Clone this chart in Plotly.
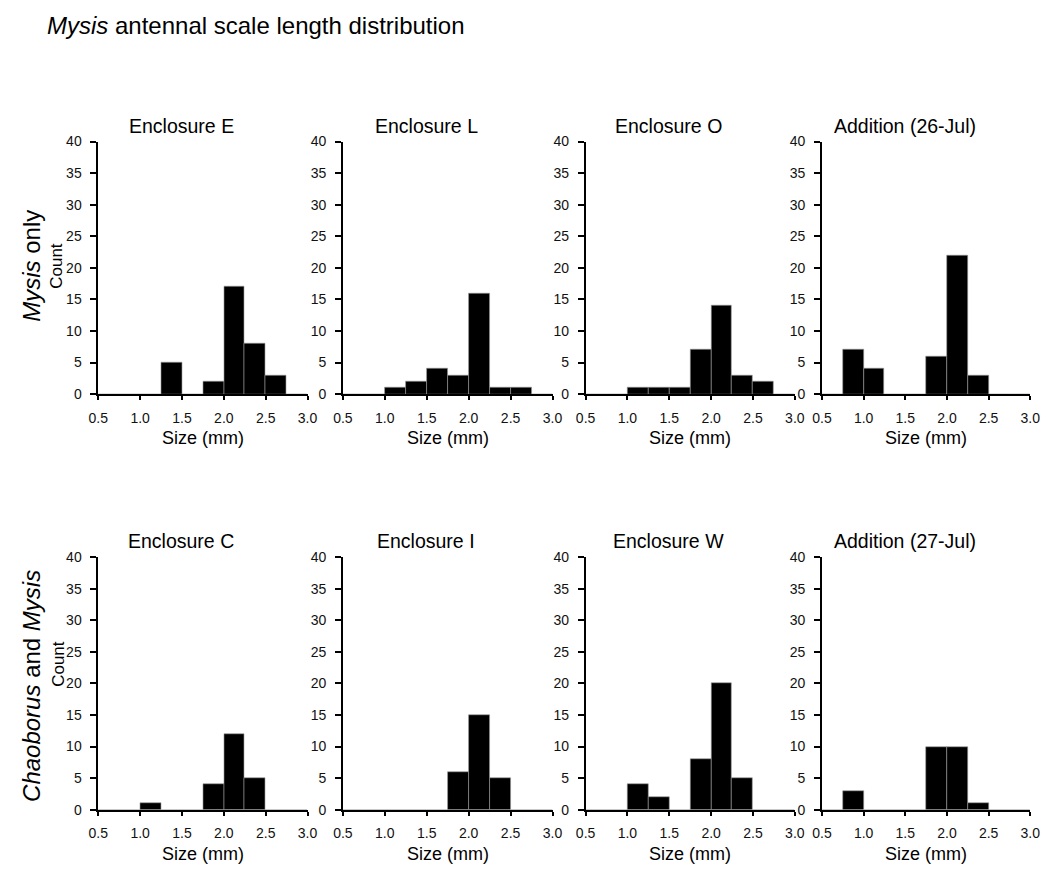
import plotly.graph_objects as go

# Bin edges (mm) and counts per bin
bin_edges = [0.5, 0.75, 1.0, 1.25, 1.5, 1.75, 2.0, 2.25, 2.5, 2.75, 3.0]

enclosure_E = [0, 0, 0, 5, 0, 2, 17, 8, 3, 0]
enclosure_L = [0, 0, 1, 2, 4, 3, 16, 1, 1, 0]
enclosure_O = [0, 0, 1, 1, 1, 7, 14, 3, 2, 0]
addition_26jul = [0, 7, 4, 0, 0, 6, 22, 3, 0, 0]
enclosure_C = [0, 0, 1, 0, 0, 4, 12, 5, 0, 0]
enclosure_I = [0, 0, 0, 0, 0, 6, 15, 5, 0, 0]
enclosure_W = [0, 0, 4, 2, 0, 8, 20, 5, 0, 0]
addition_27jul = [0, 3, 0, 0, 0, 10, 10, 1, 0, 0]

panel_titles = ["Enclosure E", "Enclosure L", "Enclosure O", "Addition (26-Jul)",
                "Enclosure C", "Enclosure I", "Enclosure W", "Addition (27-Jul)"]
panel_counts = [enclosure_E, enclosure_L, enclosure_O, addition_26jul,
                enclosure_C, enclosure_I, enclosure_W, addition_27jul]

x_ticks = [0.5, 1.0, 1.5, 2.0, 2.5, 3.0]
y_ticks = [0, 5, 10, 15, 20, 25, 30, 35, 40]

W, H = 1055, 875
FONT = "Liberation Sans, Arial, sans-serif"

# panel pixel positions
col_px = [(90, 303.3), (339.3, 553), (586.7, 800), (827.7, 1040)]
row_px = [(136, 393.3), (559.3, 816.7)]

fig = go.Figure()
centers = [(bin_edges[i] + bin_edges[i + 1]) / 2 for i in range(len(bin_edges) - 1)]
widths = [bin_edges[i + 1] - bin_edges[i] for i in range(len(bin_edges) - 1)]


def ann(text, px, py, size, angle=0, xanchor="center"):
    return dict(text=text, x=px / W, y=1 - py / H, xref="paper", yref="paper",
                showarrow=False, textangle=angle, xanchor=xanchor, yanchor="middle",
                font=dict(family=FONT, size=size, color="black"))


annotations = []
for k, (title, counts) in enumerate(zip(panel_titles, panel_counts)):
    r, c = divmod(k, 4)
    idx = k + 1
    xa = "x" if idx == 1 else f"x{idx}"
    ya = "y" if idx == 1 else f"y{idx}"
    fig.add_trace(go.Bar(
        x=centers, y=counts, width=widths,
        marker=dict(color="black", line=dict(color="#9a9a9a", width=0.6)),
        xaxis=xa, yaxis=ya, showlegend=False, hoverinfo="x+y",
    ))
    x0, x1 = col_px[c]
    y0, y1 = row_px[r]
    xdom = [x0 / W, x1 / W]
    ydom = [1 - y1 / H, 1 - y0 / H]
    axis_common = dict(showgrid=False, zeroline=False, showline=True,
                       linecolor="black", linewidth=1.6, ticks="outside",
                       tickwidth=1.5, tickcolor="black",
                       tickfont=dict(family=FONT, size=14, color="#111"))
    fig.layout[f"xaxis{'' if idx == 1 else idx}"] = dict(
        domain=xdom, anchor=ya, range=[0.5, 3.0], tickvals=x_ticks,
        ticktext=[f"{v:.1f}" for v in x_ticks], ticklen=4,
        ticklabelstandoff=6, **axis_common)
    fig.layout[f"yaxis{'' if idx == 1 else idx}"] = dict(
        domain=ydom, anchor=xa, range=[0, 40], tickvals=y_ticks, ticklen=6,
        ticklabelstandoff=6, **axis_common)
    # panel title (centred on the chart area, left of the plot centre)
    annotations.append(ann(title, (x0 + x1) / 2 - 22, y0 - 16, 19.5))
    # x-axis title
    annotations.append(ann("Size (mm)", (x0 + x1) / 2, y1 + 45, 18))

# Count labels
annotations.append(ann("Count", 47.5, 263, 17, angle=-90))
annotations.append(ann("Count", 50, 668, 17, angle=-90))
# Row labels
annotations.append(ann("<i>Mysis</i> only", 22, 263, 24, angle=-90))
annotations.append(ann("<i>Chaoborus</i> and <i>Mysis</i>", 22, 691, 24, angle=-90))
# Main title
annotations.append(ann("<i>Mysis</i> antennal scale length distribution", 36, 18, 24,
                       xanchor="left"))

fig.update_layout(width=W, height=H, margin=dict(l=0, r=0, t=0, b=0),
                  paper_bgcolor="white", plot_bgcolor="white",
                  annotations=annotations, bargap=0)
fig.write_html("out.html")
